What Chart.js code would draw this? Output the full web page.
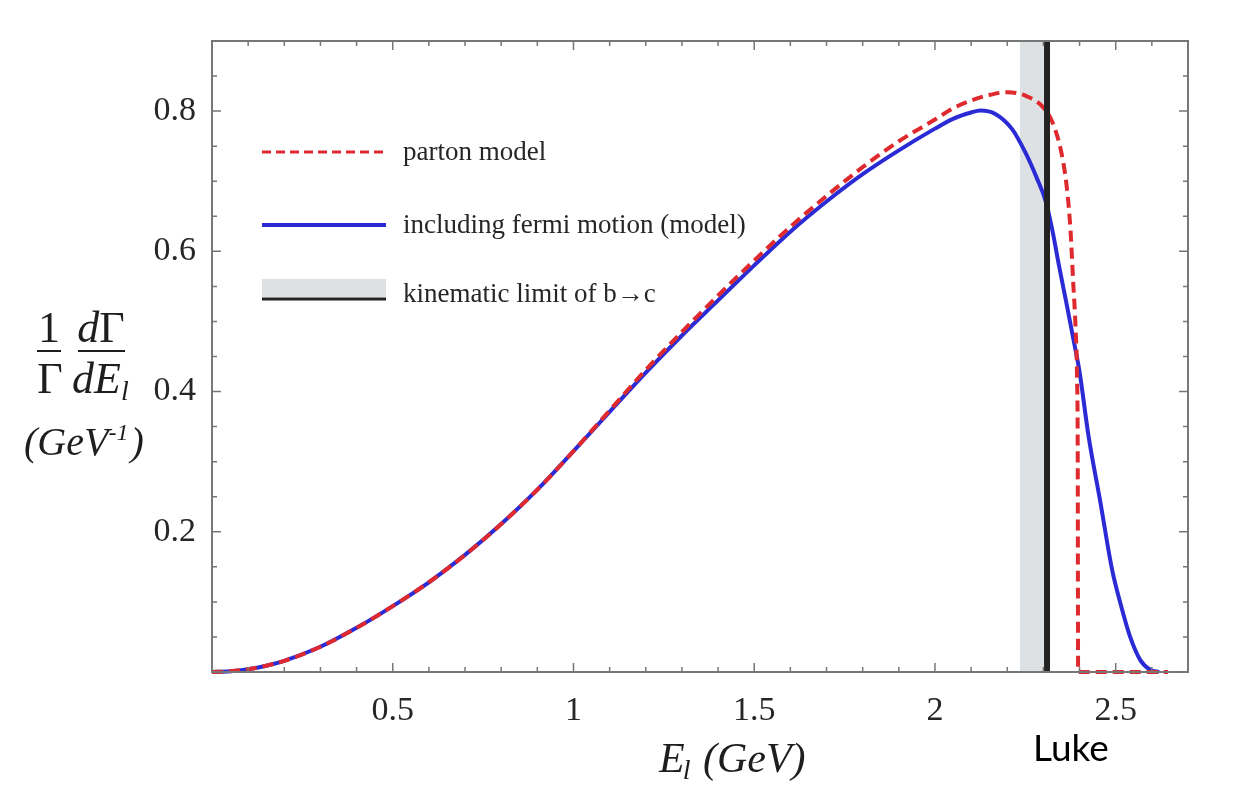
<!DOCTYPE html>
<html><head><meta charset="utf-8">
<script src="https://cdn.jsdelivr.net/npm/chart.js@4.4.1/dist/chart.umd.min.js"></script>
<style>html,body{margin:0;padding:0;background:#fff;}#wrap{width:1235px;height:785px;}</style>
</head><body><div id="wrap"><canvas id="c" width="1235" height="785"></canvas></div>
<script>
// ---- data ----
const partonE = [0, 0.05, 0.1, 0.15, 0.2, 0.3, 0.4, 0.5, 0.6, 0.7, 0.8, 0.9, 1.0, 1.1, 1.2, 1.3, 1.4, 1.5, 1.6, 1.7, 1.8, 1.9, 2.0, 2.05, 2.1, 2.15, 2.2, 2.25, 2.3, 2.325, 2.35, 2.365, 2.375, 2.382, 2.389, 2.393, 2.395, 2.396, 2.645];
const partonRate = [0, 0.001, 0.004, 0.009, 0.016, 0.036, 0.063, 0.094, 0.128, 0.167, 0.211, 0.26, 0.315, 0.373, 0.431, 0.485, 0.537, 0.587, 0.635, 0.679, 0.72, 0.757, 0.788, 0.804, 0.815, 0.823, 0.827, 0.822, 0.805, 0.784, 0.74, 0.69, 0.63, 0.56, 0.49, 0.42, 0.3, 0, 0];
const fermiE = [0, 0.05, 0.1, 0.15, 0.2, 0.3, 0.4, 0.5, 0.6, 0.7, 0.8, 0.9, 1.0, 1.1, 1.2, 1.3, 1.4, 1.5, 1.6, 1.7, 1.8, 1.9, 2.0, 2.05, 2.1, 2.126, 2.167, 2.214, 2.25, 2.283, 2.306, 2.324, 2.343, 2.366, 2.384, 2.4, 2.425, 2.458, 2.49, 2.513, 2.54, 2.568, 2.596, 2.62];
const fermiRate = [0, 0.001, 0.004, 0.009, 0.016, 0.036, 0.063, 0.094, 0.128, 0.167, 0.211, 0.26, 0.315, 0.371, 0.427, 0.48, 0.53, 0.58, 0.628, 0.671, 0.71, 0.744, 0.775, 0.789, 0.798, 0.801, 0.796, 0.774, 0.741, 0.703, 0.672, 0.632, 0.58, 0.52, 0.472, 0.428, 0.336, 0.241, 0.146, 0.098, 0.05, 0.017, 0.003, 0];
const kinematicLimit = 2.31;
const kinematicBand = [2.235, 2.31];
const xTickValues = [0.5, 1, 1.5, 2, 2.5];
const yTickValues = [0.2, 0.4, 0.6, 0.8];
const xRange = [0, 2.7];
const yRange = [0, 0.9];
const legendLabels = ['parton model', 'including fermi motion (model)', 'kinematic limit of b\u2192c'];

const RED = '#de2a2e', BLUE = '#2b2bd6', BAND = '#dde1e3', BLACK = '#222222', TXT = '#262626';
const toPts = (xs, ys) => xs.map((v, i) => ({x: v, y: ys[i]}));

const decor = {
  id: 'decor',
  beforeDatasetsDraw(chart) {
    const {ctx, chartArea: a, scales: {x}} = chart;
    const x0 = x.getPixelForValue(kinematicBand[0]), x1 = x.getPixelForValue(kinematicBand[1]);
    ctx.save();
    ctx.fillStyle = BAND;
    ctx.fillRect(x0, a.top, x1 - x0, a.bottom - a.top);
    ctx.restore();
  },
  afterDatasetsDraw(chart) {
    const {ctx, chartArea: a, scales: {x, y}} = chart;
    ctx.save();
    ctx.strokeStyle = '#777';
    ctx.lineWidth = 2;
    ctx.strokeRect(a.left, a.top, a.right - a.left, a.bottom - a.top);
    ctx.lineWidth = 1.5;
    ctx.beginPath();
    for (let i = 1; i <= 26; i++) {
      const px = x.getPixelForValue(i / 10);
      const len = (i % 5 === 0) ? 9 : 5;
      ctx.moveTo(px, a.bottom); ctx.lineTo(px, a.bottom - len);
      ctx.moveTo(px, a.top); ctx.lineTo(px, a.top + len);
    }
    for (let i = 1; i <= 17; i++) {
      const py = y.getPixelForValue(i / 20);
      const len = (i % 4 === 0) ? 9 : 5;
      ctx.moveTo(a.left, py); ctx.lineTo(a.left + len, py);
      ctx.moveTo(a.right, py); ctx.lineTo(a.right - len, py);
    }
    ctx.stroke();
    ctx.restore();
  },
  afterDraw(chart) {
    const ctx = chart.ctx;
    ctx.save();
    // legend
    ctx.lineCap = 'butt';
    ctx.strokeStyle = RED; ctx.lineWidth = 3; ctx.setLineDash([9, 5]);
    ctx.beginPath(); ctx.moveTo(262, 152); ctx.lineTo(386, 152); ctx.stroke();
    ctx.setLineDash([]);
    ctx.strokeStyle = BLUE; ctx.lineWidth = 4;
    ctx.beginPath(); ctx.moveTo(262, 225); ctx.lineTo(386, 225); ctx.stroke();
    ctx.fillStyle = BAND; ctx.fillRect(262, 279, 124, 18);
    ctx.strokeStyle = BLACK; ctx.lineWidth = 3;
    ctx.beginPath(); ctx.moveTo(262, 299); ctx.lineTo(386, 299); ctx.stroke();
    ctx.fillStyle = TXT;
    ctx.font = '27px "Liberation Serif"';
    ctx.textAlign = 'left'; ctx.textBaseline = 'alphabetic';
    ctx.fillText(legendLabels[0], 403, 160);
    ctx.fillText(legendLabels[1], 403, 233);
    ctx.fillText(legendLabels[2], 403, 302);

    // y-axis title
    ctx.fillStyle = '#1e1e1e';
    ctx.textAlign = 'center';
    ctx.font = '44px "Liberation Serif"';
    ctx.fillText('1', 49, 342);
    ctx.fillText('\u0393', 50, 393);
    ctx.fillRect(37, 350, 24, 2);
    ctx.textAlign = 'left';
    ctx.font = 'italic 44px "Liberation Serif"';
    const wd = ctx.measureText('d').width;
    ctx.font = '44px "Liberation Serif"';
    const wG = ctx.measureText('\u0393').width;
    const sx = 101 - (wd + wG) / 2;
    ctx.font = 'italic 44px "Liberation Serif"';
    ctx.fillText('d', sx, 342);
    ctx.font = '44px "Liberation Serif"';
    ctx.fillText('\u0393', sx + wd, 342);
    ctx.fillRect(78, 350, 47, 2);
    ctx.font = 'italic 44px "Liberation Serif"';
    ctx.fillText('dE', 72, 393);
    let w = ctx.measureText('dE').width;
    ctx.font = 'italic 28px "Liberation Serif"';
    ctx.fillText('l', 72 + w, 400);
    ctx.font = 'italic 40px "Liberation Serif"';
    ctx.fillText('(GeV', 24, 455);
    w = ctx.measureText('(GeV').width;
    ctx.font = 'italic 24px "Liberation Serif"';
    ctx.fillText('-1', 24 + w, 440);
    const w2 = ctx.measureText('-1').width;
    ctx.font = 'italic 40px "Liberation Serif"';
    ctx.fillText(')', 24 + w + w2 + 2, 455);

    // x-axis title
    ctx.font = 'italic 42px "Liberation Serif"';
    ctx.fillText('E', 659, 772);
    w = ctx.measureText('E').width;
    ctx.font = 'italic 28px "Liberation Serif"';
    ctx.fillText('l', 659 + w - 2, 779);
    const wl = ctx.measureText('l').width;
    ctx.font = 'italic 42px "Liberation Serif"';
    ctx.fillText(' (GeV)', 659 + w + wl, 772);

    // credit
    ctx.fillStyle = '#000';
    ctx.font = '37px Lato';
    ctx.fillText('Luke', 1033, 761);
    ctx.restore();
  }
};

new Chart(document.getElementById('c'), {
  type: 'scatter',
  data: {
    datasets: [
      {label: 'kinematic limit', data: [{x: kinematicLimit, y: yRange[0]}, {x: kinematicLimit, y: yRange[1]}],
       showLine: true, borderColor: BLACK, borderWidth: 6, pointRadius: 0, clip: false},
      {label: legendLabels[0], data: toPts(partonE, partonRate), showLine: true, borderColor: RED,
       borderWidth: 4, borderDash: [11, 6], pointRadius: 0, cubicInterpolationMode: 'monotone', clip: false},
      {label: legendLabels[1], data: toPts(fermiE, fermiRate), showLine: true, borderColor: BLUE,
       borderWidth: 4, pointRadius: 0, cubicInterpolationMode: 'monotone', clip: false}
    ]
  },
  options: {
    responsive: false, animation: false, devicePixelRatio: 1,
    layout: {padding: {left: 0, right: 47, top: 41, bottom: 0}},
    plugins: {legend: {display: false}, tooltip: {enabled: false}},
    scales: {
      x: {type: 'linear', min: xRange[0], max: xRange[1],
          afterBuildTicks: s => { s.ticks = xTickValues.map(v => ({value: v})); },
          afterFit: s => { s.height = 113; },
          grid: {display: false, drawTicks: false}, border: {display: false},
          ticks: {color: TXT, font: {family: 'Liberation Serif', size: 34}, padding: 19, maxRotation: 0, autoSkip: false,
                  callback: v => String(v)}},
      y: {type: 'linear', min: yRange[0], max: yRange[1],
          afterBuildTicks: s => { s.ticks = yTickValues.map(v => ({value: v})); },
          afterFit: s => { s.width = 212; },
          grid: {display: false, drawTicks: false}, border: {display: false},
          ticks: {color: TXT, font: {family: 'Liberation Serif', size: 34}, padding: 16, autoSkip: false,
                  callback: v => String(v)}}
    }
  },
  plugins: [decor]
});
</script>
</body></html>
